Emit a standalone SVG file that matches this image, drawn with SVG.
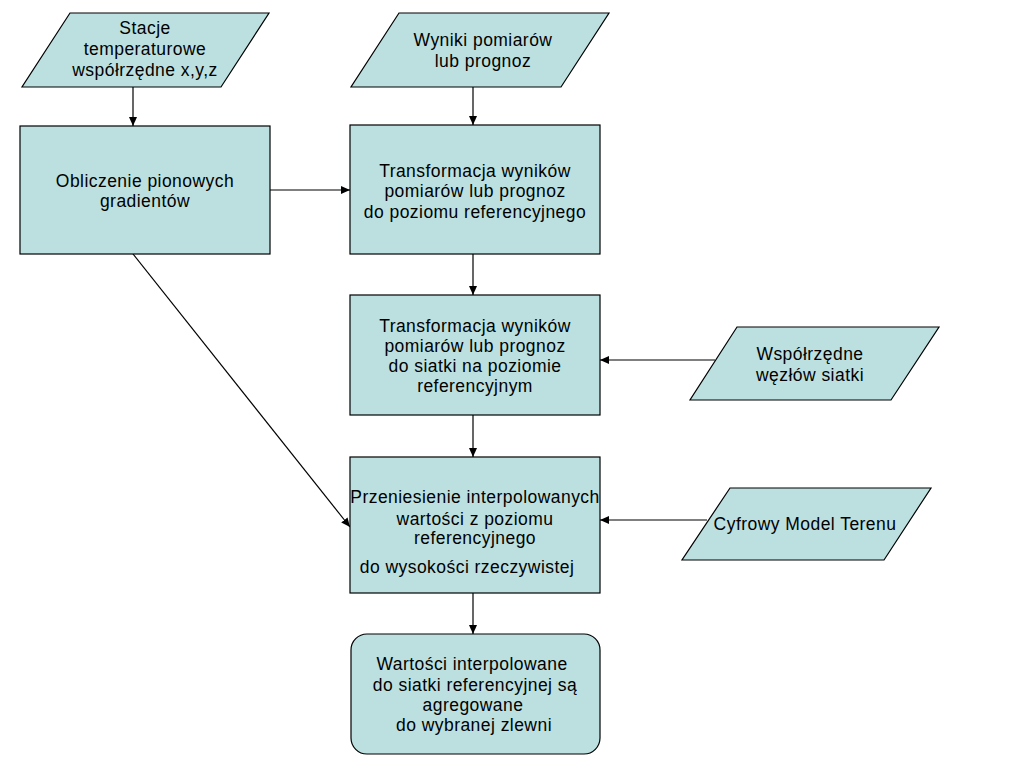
<svg xmlns="http://www.w3.org/2000/svg" width="1024" height="768" viewBox="0 0 1024 768">
<defs>
<marker id="arr" markerWidth="10" markerHeight="10" refX="9" refY="5" orient="auto" markerUnits="userSpaceOnUse">
<path d="M0,1 L9,5 L0,9 Z" fill="#000"/>
</marker>
<style>
.shape{fill:#BCE0E0;stroke:#000;stroke-width:1.2}
.t{font-family:"Liberation Sans",Arial,sans-serif;font-size:17.5px;fill:#000;text-anchor:middle;letter-spacing:0.45px}
.c{stroke:#000;stroke-width:1.2;fill:none;marker-end:url(#arr)}
</style>
</defs>
<rect width="1024" height="768" fill="#fff"/>
<g id="connectors">
<line class="c" x1="133" y1="87" x2="133" y2="126"/>
<line class="c" x1="473" y1="87" x2="473" y2="125"/>
<line class="c" x1="270" y1="190" x2="350" y2="190"/>
<line class="c" x1="473" y1="254" x2="473" y2="295"/>
<line class="c" x1="715" y1="360" x2="600" y2="360"/>
<line class="c" x1="473" y1="415" x2="473" y2="457"/>
<line class="c" x1="707" y1="520" x2="600" y2="520"/>
<line class="c" x1="133" y1="254" x2="350" y2="527"/>
<line class="c" x1="473" y1="593" x2="473" y2="634"/>
</g>
<g id="stacje">
<polygon class="shape" points="70,13 269,13 221,87 22,87"/>
<text class="t" x="145" y="34">Stacje</text>
<text class="t" x="145" y="55">temperaturowe</text>
<text class="t" x="145" y="76">współrzędne x,y,z</text>
</g>
<g id="wyniki">
<polygon class="shape" points="399,13 609,13 561,87 351,87"/>
<text class="t" x="483" y="46">Wyniki pomiarów</text>
<text class="t" x="483" y="67">lub prognoz</text>
</g>
<g id="obliczenie">
<rect class="shape" x="20" y="126" width="250" height="128"/>
<text class="t" x="145" y="187">Obliczenie pionowych</text>
<text class="t" x="145" y="207">gradientów</text>
</g>
<g id="transformacja1">
<rect class="shape" x="350" y="125" width="250" height="129"/>
<text class="t" x="475" y="177">Transformacja wyników</text>
<text class="t" x="475" y="197">pomiarów lub prognoz</text>
<text class="t" x="475" y="218">do poziomu referencyjnego</text>
</g>
<g id="transformacja2">
<rect class="shape" x="350" y="295" width="250" height="120"/>
<text class="t" x="475" y="332">Transformacja wyników</text>
<text class="t" x="475" y="352">pomiarów lub prognoz</text>
<text class="t" x="475" y="372">do siatki na poziomie</text>
<text class="t" x="475" y="392">referencyjnym</text>
</g>
<g id="wspolrzedne">
<polygon class="shape" points="737,327 939,327 891,400 690,400"/>
<text class="t" x="810" y="360">Współrzędne</text>
<text class="t" x="810" y="381">węzłów siatki</text>
</g>
<g id="przeniesienie">
<rect class="shape" x="350" y="457" width="250" height="136"/>
<text class="t" x="475" y="503">Przeniesienie interpolowanych</text>
<text class="t" x="475" y="525">wartości z poziomu</text>
<text class="t" x="475" y="544">referencyjnego</text>
<text class="t" x="467" y="573">do wysokości rzeczywistej</text>
</g>
<g id="cyfrowy">
<polygon class="shape" points="730,488 931,488 884,560 682,560"/>
<text class="t" x="805" y="530">Cyfrowy Model Terenu</text>
</g>
<g id="wartosci">
<rect class="shape" x="351" y="634" width="249" height="120" rx="16" ry="16"/>
<text class="t" x="472" y="670">Wartości interpolowane</text>
<text class="t" x="475" y="691">do siatki referencyjnej są</text>
<text class="t" x="473" y="711">agregowane</text>
<text class="t" x="474" y="731">do wybranej zlewni</text>
</g>
</svg>
